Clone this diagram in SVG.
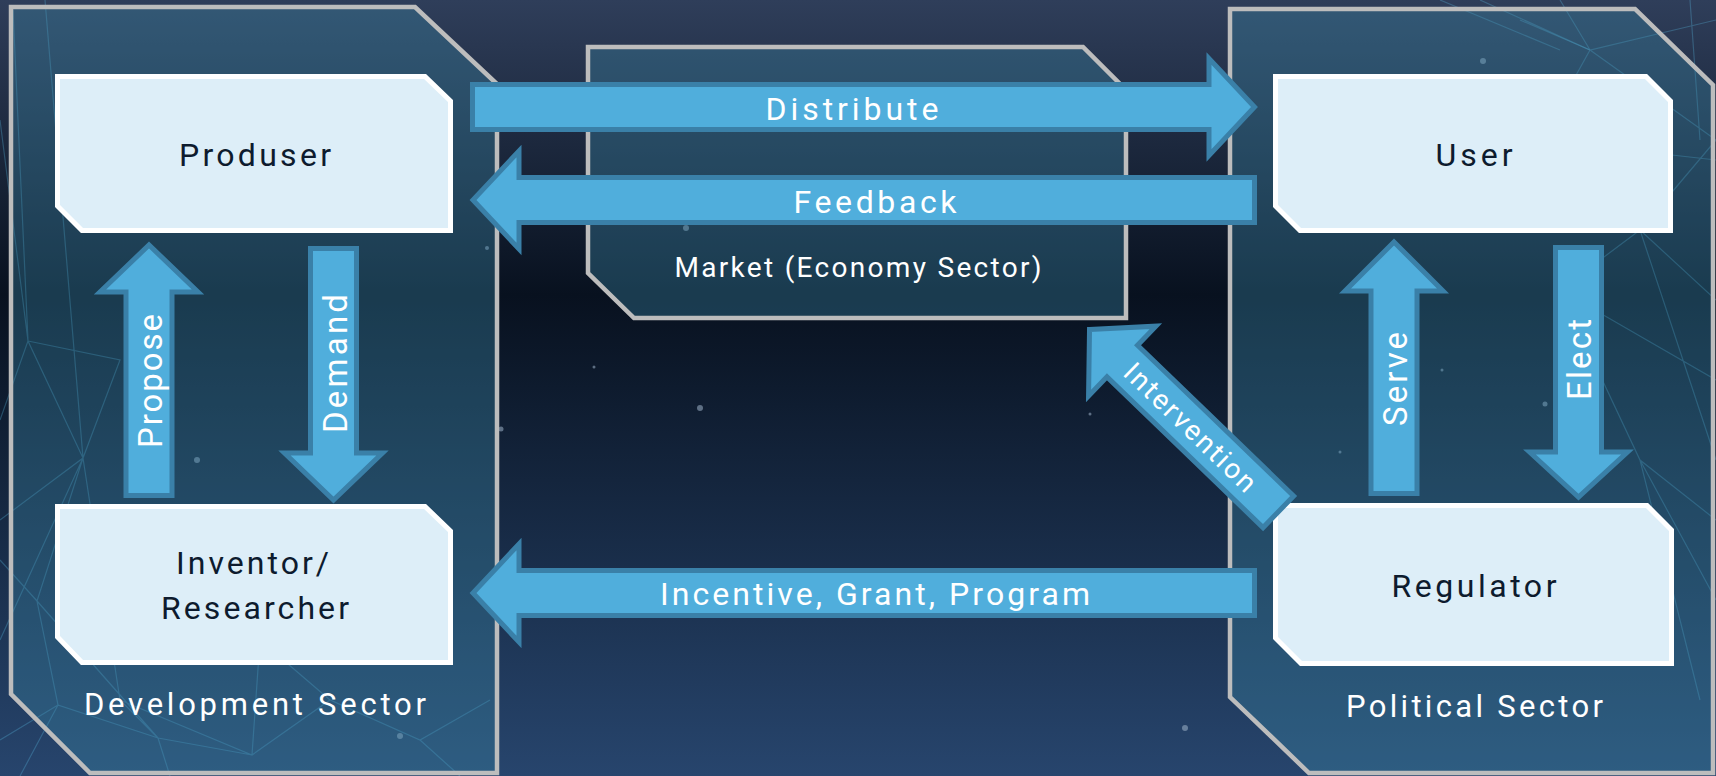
<svg xmlns="http://www.w3.org/2000/svg" width="1716" height="776" viewBox="0 0 1716 776">
  <defs>
    <linearGradient id="bg" x1="0" y1="0" x2="0" y2="1">
      <stop offset="0" stop-color="#2f3e5a"/>
      <stop offset="0.38" stop-color="#08111f"/>
      <stop offset="1" stop-color="#27456d"/>
    </linearGradient>
    <style>
      .panel { fill: #3c8aa8; fill-opacity: 0.35; stroke: #bdbdbd; stroke-width: 4.5; stroke-linejoin: miter; }
      .node { fill: #ddeef8; stroke: #ffffff; stroke-width: 5; stroke-linejoin: miter; }
      .arrow { fill: #50aedc; stroke: #3a80a8; stroke-width: 5; stroke-linejoin: miter; }
      .ntext { font-family: Roboto, "Open Sans", sans-serif; font-size: 32px; fill: #0d1b2e; text-anchor: middle; }
      .atext { font-family: Roboto, "Open Sans", sans-serif; font-size: 32px; fill: #ffffff; text-anchor: middle; }
      .vtext { font-family: Roboto, "Open Sans", sans-serif; font-size: 33px; fill: #ffffff; text-anchor: middle; }
      .stext { font-family: Roboto, "Open Sans", sans-serif; font-size: 31px; fill: #ffffff; text-anchor: middle; }
      .mtext { font-family: Roboto, "Open Sans", sans-serif; font-size: 28px; fill: #ffffff; text-anchor: middle; }
      .plex { stroke: #5ab8e0; stroke-opacity: 0.3; stroke-width: 1.2; fill: none; }
      .star { fill: #9fb3c8; fill-opacity: 0.55; }
    </style>
  </defs>

  <!-- background -->
  <rect x="0" y="0" width="1716" height="776" fill="url(#bg)"/>
  <g id="decor">
    <path class="plex" d="M13,10 L28,341 L83,458 L37,601 L58,705 L158,738 L252,755 M0,120 L28,341 L0,420 M45,0 L83,458 M28,341 L120,360 L83,458 L0,520 M83,458 L0,640 M37,601 L0,560 M37,601 L58,705 L0,740 M83,458 L120,700 L158,738 M37,601 L158,738 M58,705 L20,776 M120,700 L252,755 L330,700 L420,740 L490,700 M252,755 L260,640 L330,700 M158,738 L170,776 M420,740 L460,776 M260,640 L180,560"/>
    <path class="plex" d="M1480,0 L1590,50 L1716,20 M1590,50 L1716,140 L1640,230 M1590,50 L1560,0 M1590,50 L1540,140 L1716,160 M1640,230 L1716,300 M1640,230 L1560,290 L1716,380 M1700,140 L1690,0 M1640,230 L1716,460 M1560,290 L1640,460 L1716,520 M1640,460 L1716,600 M1640,460 L1700,700"/>
    <path class="plex" d="M1440,0 L1560,50 M1520,20 L1590,50"/>
    <circle class="star" cx="686" cy="228" r="3"/>
    <circle class="star" cx="700" cy="408" r="3"/>
    <circle class="star" cx="501" cy="429" r="2.5"/>
    <circle class="star" cx="594" cy="367" r="1.5"/>
    <circle class="star" cx="279" cy="175" r="1.5"/>
    <circle class="star" cx="197" cy="460" r="3"/>
    <circle class="star" cx="1483" cy="61" r="3"/>
    <circle class="star" cx="1340" cy="452" r="1.5"/>
    <circle class="star" cx="1185" cy="728" r="3"/>
    <circle class="star" cx="1442" cy="370" r="1.5"/>
    <circle class="star" cx="1545" cy="404" r="2.5"/>
    <circle class="star" cx="1090" cy="414" r="1.5"/>
    <circle class="star" cx="487" cy="248" r="2"/>
    <circle class="star" cx="400" cy="736" r="3"/>
  </g>

  <!-- sector panels -->
  <g id="development-sector">
    <polygon class="panel" points="11,7 415,7 497,84 497,773 90,773 11,694"/>
    <text class="stext" x="255" y="715" textLength="342">Development Sector</text>
  </g>
  <g id="market-sector">
    <polygon class="panel" points="588,47 1083,47 1126,90 1126,318 634,318 588,273"/>
    <text class="mtext" x="858" y="277" textLength="367">Market (Economy Sector)</text>
  </g>
  <g id="political-sector">
    <polygon class="panel" points="1230,9 1635,9 1713,85 1713,773 1309,773 1230,697"/>
    <text class="stext" x="1474.5" y="717" textLength="257">Political Sector</text>
  </g>

  <!-- nodes -->
  <g id="produser">
    <polygon class="node" points="57.5,76.5 425,76.5 450.5,101 450.5,230.5 82,230.5 57.5,206"/>
    <text class="ntext" x="255" y="166" textLength="152">Produser</text>
  </g>
  <g id="inventor-researcher">
    <polygon class="node" points="57.5,506.5 425,506.5 450.5,531 450.5,662.5 82,662.5 57.5,637"/>
    <text class="ntext" x="252.5" y="574" textLength="153">Inventor/</text>
    <text class="ntext" x="255" y="619" textLength="188">Researcher</text>
  </g>
  <g id="user">
    <polygon class="node" points="1275.5,76.5 1646,76.5 1670.5,101 1670.5,230.5 1300,230.5 1275.5,206"/>
    <text class="ntext" x="1474" y="166" textLength="77">User</text>
  </g>
  <g id="regulator">
    <polygon class="node" points="1275.5,505.5 1647,505.5 1671.5,530 1671.5,663.5 1301,663.5 1275.5,638"/>
    <text class="ntext" x="1474" y="597" textLength="165">Regulator</text>
  </g>

  <!-- connectors -->
  <g id="connectors">
    <g id="distribute">
      <polygon class="arrow" points="472.5,84.5 1209,84.5 1209,58.5 1254.5,107 1209,155.5 1209,129.5 472.5,129.5"/>
      <text class="atext" x="852" y="120" textLength="173">Distribute</text>
    </g>
    <g id="feedback">
      <polygon class="arrow" points="1254.5,177.5 519,177.5 519,151 473,200 519,249 519,222.5 1254.5,222.5"/>
      <text class="atext" x="875" y="213" textLength="163">Feedback</text>
    </g>
    <g id="incentive">
      <polygon class="arrow" points="1254.5,570.5 519,570.5 519,544 473,593 519,642 519,615.5 1254.5,615.5"/>
      <text class="atext" x="875" y="605" textLength="430">Incentive, Grant, Program</text>
    </g>
    <g id="propose">
      <polygon class="arrow" points="126,495.5 126,292 100,292 149,245 198,292 172,292 172,495.5"/>
      <text class="vtext" transform="translate(162,381) rotate(-90)" x="0" y="0" textLength="134">Propose</text>
    </g>
    <g id="demand">
      <polygon class="arrow" points="310.5,248.5 356.5,248.5 356.5,453 382.5,453 333.5,500 284.5,453 310.5,453"/>
      <text class="vtext" transform="translate(347,363.5) rotate(-90)" x="0" y="0" textLength="139">Demand</text>
    </g>
    <g id="serve">
      <polygon class="arrow" points="1371,493.5 1371,291 1345,291 1394,242 1443,291 1417,291 1417,493.5"/>
      <text class="vtext" transform="translate(1407,379) rotate(-90)" x="0" y="0" textLength="94">Serve</text>
    </g>
    <g id="elect">
      <polygon class="arrow" points="1555.5,247.5 1601.5,247.5 1601.5,452 1627.5,452 1578.5,497 1529.5,452 1555.5,452"/>
      <text class="vtext" transform="translate(1591,359.5) rotate(-90)" x="0" y="0" textLength="81">Elect</text>
    </g>
    <g id="intervention" transform="translate(1087,327) rotate(44)">
      <polygon class="arrow" points="3.5,0 49,-48.5 49,-22 266,-22 266,22 49,22 49,48.5"/>
      <text class="mtext" x="144" y="10" textLength="172">Intervention</text>
    </g>
  </g>
</svg>
